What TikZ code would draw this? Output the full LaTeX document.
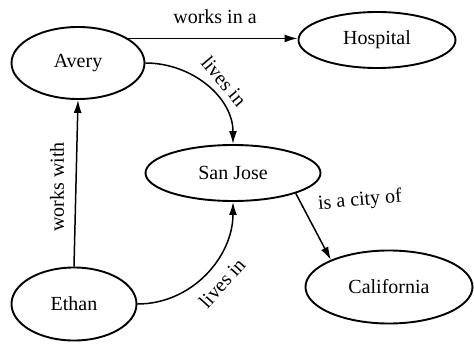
\documentclass[tikz,border=0pt]{standalone}
\usepackage{fontspec}
\setmainfont{Liberation Serif}
\usetikzlibrary{shapes.geometric,arrows.meta}
\begin{document}
\begin{tikzpicture}[x=1pt,y=-1pt,
  concept/.style={draw,ellipse,line width=1.9pt,inner sep=0pt,
    font=\fontsize{20}{24}\selectfont},
  rel/.style={line width=1.5pt,-{Latex[length=13pt,width=8pt]}},
  lbl/.style={font=\fontsize{20}{24}\selectfont,inner sep=0pt}]
  \useasboundingbox (0,0) rectangle (474,345);

  % concepts
  \node[concept,minimum width=133pt,minimum height=72pt] (avery)  at (78,63)   {Avery};
  \node[concept,minimum width=157pt,minimum height=56pt] (hosp)   at (377,40)  {Hospital};
  \node[concept,minimum width=175pt,minimum height=56pt] (sj)     at (233,173) {San Jose};
  \node[concept,minimum width=125pt,minimum height=73pt] (ethan)  at (74,304)  {Ethan};
  \node[concept,minimum width=167pt,minimum height=73pt] (calif)  at (389,287) {California};

  % relations
  \draw[rel] (avery.26) -- (avery.26 -| hosp.west);
  \draw[rel] (avery.east) to[out=0,in=90] (sj.north);
  \draw[rel] (ethan.north) -- (avery.south);
  \draw[rel] (ethan.east) to[out=0,in=-90] (sj.south);
  \draw[rel] (sj.-18) -- (calif.155);

  % relation labels
  \node[lbl] (l1) at (215,17) {works in a};
  \node[lbl,rotate=-50] (l2) at (224,81) {lives in};
  \node[lbl,rotate=90] (l3) at (57,187) {works with};
  \node[lbl,rotate=48] (l4) at (222,283) {lives in};
  \node[lbl,rotate=5] (l5) at (360,201) {is a city of};
\end{tikzpicture}
\end{document}
